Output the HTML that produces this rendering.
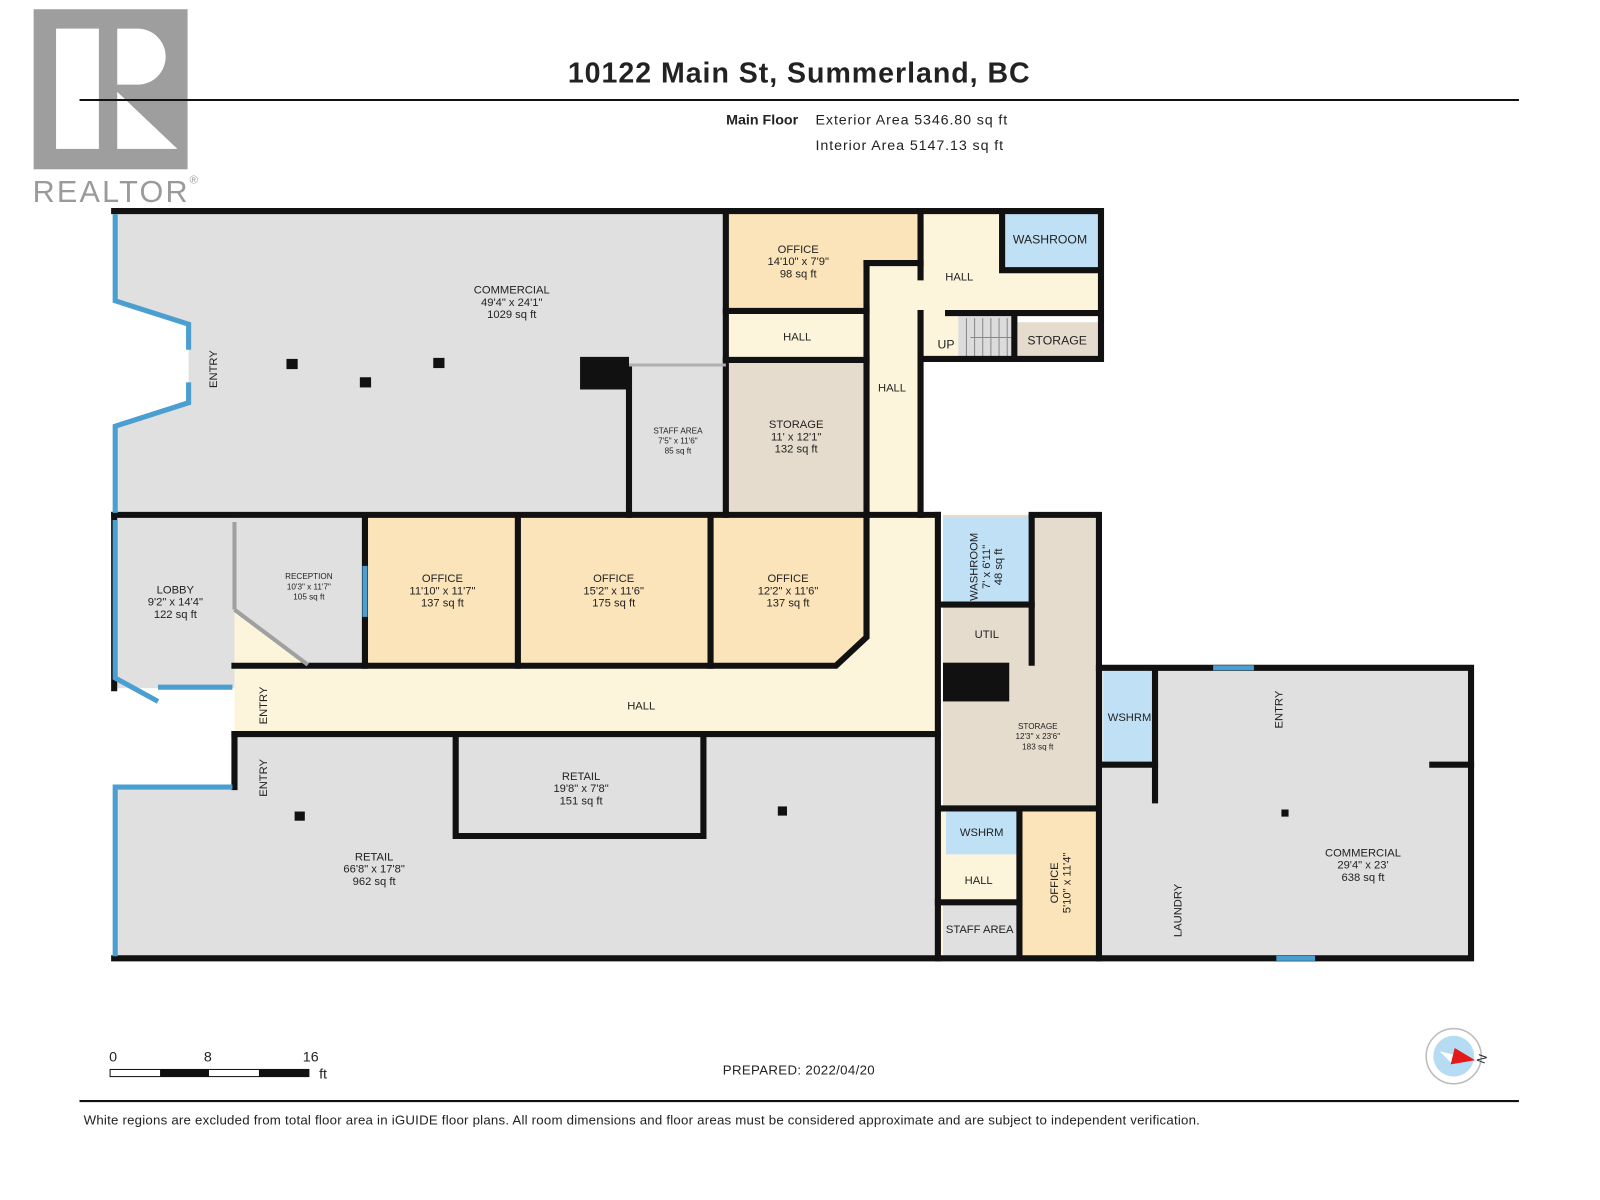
<!DOCTYPE html>
<html><head><meta charset="utf-8"><style>
html,body{margin:0;padding:0;background:#fff;width:1600px;height:1200px;overflow:hidden}
svg text{font-family:"Liberation Sans",Arial,sans-serif;fill:#222}
</style></head><body>
<svg width="1600" height="1200" viewBox="0 0 1569.5 1177" xmlns="http://www.w3.org/2000/svg">
<!-- logo -->
<rect x="33" y="9" width="151" height="157" fill="#9e9e9e"/>
<rect x="55" y="28" width="42" height="118" fill="#fff"/>
<path d="M115 28 H135 A22 22 0 0 1 135 83 H115 Z" fill="#fff"/>
<path d="M115 90 L174 146 H115 Z" fill="#fff"/>
<text x="32" y="198" font-size="30" textLength="152" style="fill:#9a9a9a">REALTOR</text>
<text x="186" y="180" font-size="11" style="fill:#9a9a9a">®</text>
<!-- header -->
<text x="557" y="81" font-size="28" font-weight="bold" textLength="453">10122 Main St, Summerland, BC</text>
<line x1="78" y1="98" x2="1490" y2="98" stroke="#111" stroke-width="2"/>
<text x="783" y="122" font-size="14" font-weight="bold" text-anchor="end">Main Floor</text>
<text x="800" y="122" font-size="14" textLength="188">Exterior Area 5346.80 sq ft</text>
<text x="800" y="147" font-size="14" textLength="184">Interior Area 5147.13 sq ft</text>

<!-- fills -->
<polygon points="112,207 712,207 712,505 112,505 112,418 185,395 185,318 112,295" fill="#e0e0e0"/>
<rect x="712" y="207" width="190" height="98" fill="#fbe4ba"/>
<rect x="712" y="305" width="140" height="48" fill="#fcf5dc"/>
<rect x="712" y="353" width="140" height="152" fill="#e6dccd"/>
<rect x="850" y="258" width="53" height="250" fill="#fcf5dc"/>
<rect x="903" y="207" width="177" height="100" fill="#fcf5dc"/>
<rect x="983" y="207" width="95" height="58" fill="#bfe0f5"/>
<rect x="903" y="307" width="37" height="45" fill="#fcf5dc"/>
<rect x="940" y="310" width="55" height="42" fill="#dcdcdc"/>
<rect x="998" y="316" width="79" height="36" fill="#e6dccd"/>
<g stroke="#888" stroke-width="1"><line x1="948" y1="312" x2="948" y2="350"/><line x1="956" y1="312" x2="956" y2="350"/><line x1="964" y1="312" x2="964" y2="350"/><line x1="972" y1="312" x2="972" y2="350"/><line x1="980" y1="312" x2="980" y2="350"/><line x1="988" y1="312" x2="988" y2="350"/><line x1="952" y1="331" x2="992" y2="331"/></g>

<rect x="112" y="505" width="118" height="170" fill="#e0e0e0"/>
<polygon points="230,508 358,508 358,652 302,652 230,598" fill="#e0e0e0"/>
<rect x="360" y="508" width="148" height="145" fill="#fbe4ba"/>
<rect x="510" y="508" width="185" height="145" fill="#fbe4ba"/>
<polygon points="697,508 850,508 850,625 820,653 697,653" fill="#fbe4ba"/>
<polygon points="230,598 302,652 820,653 850,625 850,505 920,505 920,720 230,720" fill="#fcf5dc"/>
<rect x="925" y="505" width="150" height="290" fill="#e6dccd"/>
<rect x="925" y="507" width="87" height="86" fill="#bfe0f5"/>
<rect x="925" y="650" width="65" height="38" fill="#111"/>

<polygon points="230,720 920,720 920,940 112,940 112,772 230,772" fill="#e0e0e0"/>
<rect x="447" y="725" width="243" height="95" fill="#e0e0e0"/>
<rect x="920" y="795" width="155" height="145" fill="#fcf5dc"/>
<rect x="928" y="796" width="70" height="42" fill="#bfe0f5"/>
<rect x="925" y="888" width="73" height="50" fill="#e0e0e0"/>
<rect x="1002" y="795" width="73" height="143" fill="#fbe4ba"/>
<rect x="1080" y="655" width="363" height="285" fill="#e0e0e0"/>
<rect x="1083" y="658" width="50" height="92" fill="#bfe0f5"/>

<!-- black blocks -->
<rect x="569" y="350" width="48" height="32" fill="#111"/>
<rect x="281" y="352" width="11" height="10" fill="#111"/>
<rect x="353" y="370" width="11" height="10" fill="#111"/>
<rect x="425" y="351" width="11" height="10" fill="#111"/>
<rect x="289" y="796" width="10" height="9" fill="#111"/>
<rect x="763" y="791" width="9" height="9" fill="#111"/>
<rect x="1257" y="794" width="7" height="7" fill="#111"/>

<!-- walls -->
<g stroke="#111" stroke-width="6" fill="none" stroke-linecap="square">
<polyline points="112,207 1080,207 1080,352 903,352 903,505"/>
<line x1="112" y1="505" x2="920" y2="505"/>
<line x1="712" y1="207" x2="712" y2="505"/>
<line x1="617" y1="360" x2="617" y2="505"/>
<line x1="850" y1="258" x2="850" y2="505"/>
<line x1="903" y1="207" x2="903" y2="272"/>
<line x1="903" y1="307" x2="903" y2="352"/>
<line x1="712" y1="305" x2="850" y2="305"/>
<line x1="712" y1="353" x2="850" y2="353"/>
<line x1="850" y1="258" x2="903" y2="258"/>
<polyline points="983,207 983,265 1077,265"/>
<line x1="930" y1="307" x2="1077" y2="307"/>
<line x1="995" y1="310" x2="995" y2="352"/>
<polyline points="850,505 850,625 820,653 230,653"/>
<line x1="358" y1="508" x2="358" y2="653"/>
<line x1="508" y1="508" x2="508" y2="653"/>
<line x1="697" y1="508" x2="697" y2="653"/>
<line x1="230" y1="720" x2="920" y2="720"/>
<line x1="920" y1="505" x2="920" y2="940"/>
<line x1="1012" y1="507" x2="1012" y2="650"/>
<line x1="925" y1="593" x2="1012" y2="593"/>
<polyline points="1012,505 1078,505 1078,655 1443,655 1443,940 112,940"/>
<line x1="925" y1="793" x2="1075" y2="793"/>
<line x1="1078" y1="655" x2="1078" y2="940"/>
<line x1="1000" y1="795" x2="1000" y2="938"/>
<line x1="920" y1="885" x2="1000" y2="885"/>
<polyline points="447,725 447,820 690,820 690,725"/>
<polyline points="1133,658 1133,785"/>
<line x1="1083" y1="750" x2="1133" y2="750"/>
<line x1="1405" y1="750" x2="1443" y2="750"/>
<line x1="112" y1="505" x2="112" y2="675"/>
<line x1="230" y1="720" x2="230" y2="772"/>
</g>
<line x1="617" y1="358" x2="712" y2="358" stroke="#b0b0b0" stroke-width="3"/>
<g stroke="#a0a0a0" stroke-width="4"><line x1="230" y1="512" x2="230" y2="598"/><line x1="230" y1="598" x2="302" y2="652"/></g>
<!-- windows -->
<g stroke="#4a9fd0" stroke-width="5" fill="none">
<polyline points="113,210 113,295 185,318 185,343"/>
<polyline points="185,375 185,395 113,418 113,503"/>
<polyline points="113,510 113,665 155,688"/>
<line x1="155" y1="674" x2="228" y2="674"/>
<polyline points="228,772 113,772 113,938"/>
<line x1="358" y1="555" x2="358" y2="605"/>
<line x1="1190" y1="655" x2="1230" y2="655"/>
<line x1="1252" y1="940" x2="1290" y2="940"/>
</g>

<!-- labels -->
<g font-size="11" text-anchor="middle">
<text x="502" y="288">COMMERCIAL</text><text x="502" y="300">49'4" x 24'1"</text><text x="502" y="312">1029 sq ft</text>
<text x="783" y="248">OFFICE</text><text x="783" y="260">14'10" x 7'9"</text><text x="783" y="272">98 sq ft</text>
<text x="782" y="334">HALL</text>
<text x="941" y="275">HALL</text>
<text x="1030" y="239" font-size="12">WASHROOM</text>
<text x="928" y="342" font-size="12">UP</text>
<text x="1037" y="338" font-size="12">STORAGE</text>
<text x="875" y="384">HALL</text>
<text x="781" y="420">STORAGE</text><text x="781" y="432">11' x 12'1"</text><text x="781" y="444">132 sq ft</text>
<text x="665" y="425" font-size="8">STAFF AREA</text><text x="665" y="435" font-size="8">7'5" x 11'6"</text><text x="665" y="445" font-size="8">85 sq ft</text>
<text x="172" y="582">LOBBY</text><text x="172" y="594">9'2" x 14'4"</text><text x="172" y="606">122 sq ft</text>
<text x="303" y="568" font-size="8">RECEPTION</text><text x="303" y="578" font-size="8">10'3" x 11'7"</text><text x="303" y="588" font-size="8">105 sq ft</text>
<text x="434" y="571">OFFICE</text><text x="434" y="583">11'10" x 11'7"</text><text x="434" y="595">137 sq ft</text>
<text x="602" y="571">OFFICE</text><text x="602" y="583">15'2" x 11'6"</text><text x="602" y="595">175 sq ft</text>
<text x="773" y="571">OFFICE</text><text x="773" y="583">12'2" x 11'6"</text><text x="773" y="595">137 sq ft</text>
<text x="629" y="696">HALL</text>
<text x="968" y="626">UTIL</text>
<text x="1018" y="715" font-size="8">STORAGE</text><text x="1018" y="725" font-size="8">12'3" x 23'6"</text><text x="1018" y="735" font-size="8">183 sq ft</text>
<text x="570" y="765">RETAIL</text><text x="570" y="777">19'8" x 7'8"</text><text x="570" y="789">151 sq ft</text>
<text x="367" y="844">RETAIL</text><text x="367" y="856">66'8" x 17'8"</text><text x="367" y="868">962 sq ft</text>
<text x="963" y="820">WSHRM</text>
<text x="960" y="867">HALL</text>
<text x="961" y="915">STAFF AREA</text>
<text x="1108" y="707">WSHRM</text>
<text x="1337" y="840">COMMERCIAL</text><text x="1337" y="852">29'4" x 23'</text><text x="1337" y="864">638 sq ft</text>
<text transform="translate(213,362) rotate(-90)">ENTRY</text>
<text transform="translate(262,692) rotate(-90)">ENTRY</text>
<text transform="translate(262,763) rotate(-90)">ENTRY</text>
<text transform="translate(1258,696) rotate(-90)">ENTRY</text>
<text transform="translate(1159,893) rotate(-90)">LAUNDRY</text>
<text transform="translate(959,556) rotate(-90)">WASHROOM</text>
<text transform="translate(971,556) rotate(-90)">7' x 6'11"</text>
<text transform="translate(983,556) rotate(-90)">48 sq ft</text>
<text transform="translate(1038,866) rotate(-90)">OFFICE</text>
<text transform="translate(1050,866) rotate(-90)">5'10" x 11'4"</text>
</g>

<!-- scale bar -->
<text x="107" y="1041" font-size="14">0</text>
<text x="200" y="1041" font-size="14">8</text>
<text x="297" y="1041" font-size="14">16</text>
<text x="313" y="1058" font-size="14">ft</text>
<rect x="108" y="1049" width="195" height="7" fill="#fff" stroke="#111" stroke-width="1"/>
<rect x="157" y="1049" width="48" height="7" fill="#111"/>
<rect x="254" y="1049" width="49" height="7" fill="#111"/>
<text x="709" y="1054" font-size="13" textLength="149">PREPARED: 2022/04/20</text>
<!-- compass -->
<circle cx="1426" cy="1036" r="27" fill="#fff" stroke="#bbb" stroke-width="1.5"/>
<circle cx="1426" cy="1036" r="20" fill="#b5dcf2"/>
<polygon points="1412,1031 1447,1040 1424,1043" fill="#fff"/>
<polygon points="1427,1028 1447,1040 1423,1044" fill="#e21a1a"/>
<text transform="translate(1456,1044) rotate(-70)" font-size="12">N</text>
<line x1="78" y1="1080" x2="1490" y2="1080" stroke="#111" stroke-width="2"/>
<text x="82" y="1103" font-size="13" textLength="1095">White regions are excluded from total floor area in iGUIDE floor plans. All room dimensions and floor areas must be considered approximate and are subject to independent verification.</text>
</svg>
</body></html>
